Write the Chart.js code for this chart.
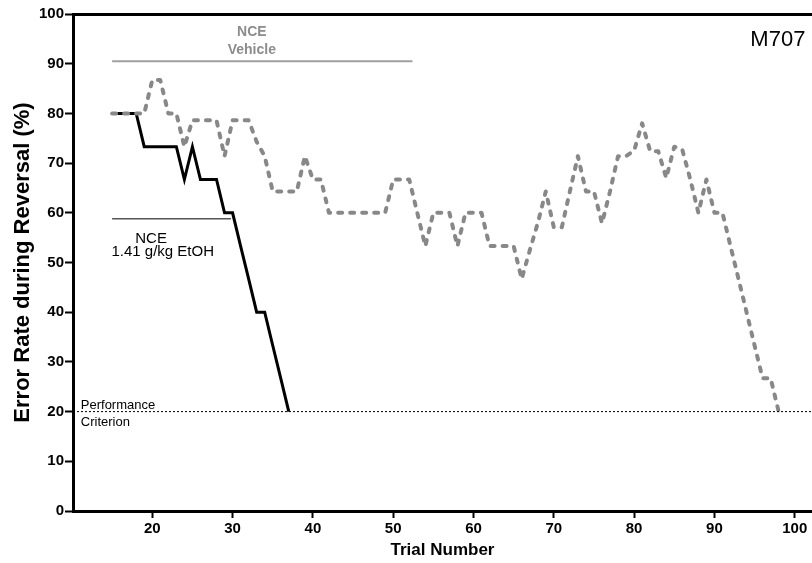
<!DOCTYPE html>
<html>
<head>
<meta charset="utf-8">
<script src="https://cdn.jsdelivr.net/npm/chart.js@4"></script>
<style>
  html, body { margin: 0; padding: 0; background: #fff; }
  canvas { display: block; }
</style>
</head>
<body>
<canvas id="myChart" width="812" height="563"></canvas>
<script>
// trial numbers and error rates (%)
const ethanolTrials = [15,16,17,18,19,20,21,22,23,24,25,26,27,28,29,30,31,32,33,34,35,36,37];
const ethanolRates  = [80,80,80,80,73.3,73.3,73.3,73.3,73.3,66.7,73.3,66.7,66.7,66.7,60,60,53.3,46.7,40,40,33.3,26.7,20];

const vehicleTrials = [];
for (let t = 15; t <= 98; t++) vehicleTrials.push(t);
const vehicleRates = [
  80,80,80,80,80,86.7,86.7,80,80,73.3,          // 15-24
  78.6,78.6,78.6,78.6,71.4,78.6,78.6,78.6,74.3,71.4, // 25-34
  64.3,64.3,64.3,64.3,71.4,66.7,66.7,60,60,60,  // 35-44
  60,60,60,60,60,66.7,66.7,66.7,60,53.3,        // 45-54
  60,60,60,53.3,60,60,60,53.3,53.3,53.3,        // 55-64
  53.3,46.7,52.4,57.9,64.3,57.1,57.1,64.3,71.4,64.3, // 65-74
  64.3,57.9,64.3,71.4,71.4,72.5,78,72.4,72.4,67,     // 75-84
  73.3,72.7,66.7,60,66.7,60,60,53.3,46.7,40,    // 85-94
  33.3,26.7,26.7,20                             // 95-98
];

const criterionLevel = 20;
const vehicleBar = [15, 52.4];   // x range of the vehicle label bar
const vehicleBarLevel = 90.5;
const ethanolBar = [15, 29.8];
const ethanolBarLevel = 58.8;

const xTickValues = [20,30,40,50,60,70,80,90,100];
const xMin = 10.13, xMax = 102.15;

// text labels placed in data coordinates
const notes = [
  { text: 'NCE', x: 32.4, y: 96.4, font: 'bold 14px "Liberation Sans", Arial', color: '#8c8c8c', align: 'center' },
  { text: 'Vehicle', x: 32.4, y: 92.8, font: 'bold 14px "Liberation Sans", Arial', color: '#8c8c8c', align: 'center' },
  { text: 'NCE', x: 19.85, y: 54.7, font: '15px "Liberation Sans", Arial', color: '#000', align: 'center' },
  { text: '1.41 g/kg EtOH', x: 21.3, y: 52.1, font: '15px "Liberation Sans", Arial', color: '#000', align: 'center' },
  { text: 'M707', x: 97.9, y: 94.8, font: '22px "Liberation Sans", Arial', color: '#000', align: 'center' },
  { text: 'Performance', x: 11.1, y: 21.3, font: '13px "Liberation Sans", Arial', color: '#000', align: 'left' },
  { text: 'Criterion', x: 11.1, y: 17.9, font: '13px "Liberation Sans", Arial', color: '#000', align: 'left' }
];

const toPoints = (xs, ys) => xs.map((x, i) => ({ x: x, y: ys[i] }));

const notesPlugin = {
  id: 'notes',
  afterDatasetsDraw(chart) {
    const ctx = chart.ctx;
    const xs = chart.scales.x, ys = chart.scales.y;
    ctx.save();
    ctx.textBaseline = 'middle';
    notes.forEach(n => {
      ctx.font = n.font;
      ctx.fillStyle = n.color;
      ctx.textAlign = n.align;
      ctx.fillText(n.text, xs.getPixelForValue(n.x), ys.getPixelForValue(n.y));
    });
    ctx.restore();
  }
};

Chart.defaults.font.family = '"Liberation Sans", Arial, sans-serif';
Chart.defaults.color = '#000';

const myChart = new Chart('myChart', {
  type: 'line',
  data: {
    datasets: [
      {
        label: 'criterion',
        data: [{ x: xMin, y: criterionLevel }, { x: xMax, y: criterionLevel }],
        borderColor: '#000', borderWidth: 1, borderDash: [2, 2], pointRadius: 0
      },
      {
        label: 'vehicle bar',
        data: [{ x: vehicleBar[0], y: vehicleBarLevel }, { x: vehicleBar[1], y: vehicleBarLevel }],
        borderColor: '#a0a0a0', borderWidth: 2, pointRadius: 0
      },
      {
        label: 'ethanol bar',
        data: [{ x: ethanolBar[0], y: ethanolBarLevel }, { x: ethanolBar[1], y: ethanolBarLevel }],
        borderColor: '#555', borderWidth: 1.5, pointRadius: 0
      },
      {
        label: 'NCE Vehicle',
        data: toPoints(vehicleTrials, vehicleRates),
        borderColor: '#888', borderWidth: 4, borderDash: [4, 8],
        borderCapStyle: 'round', borderJoinStyle: 'round', pointRadius: 0, tension: 0
      },
      {
        label: 'NCE 1.41 g/kg EtOH',
        data: toPoints(ethanolTrials, ethanolRates),
        borderColor: '#000', borderWidth: 3, borderJoinStyle: 'miter', pointRadius: 0, tension: 0
      }
    ]
  },
  options: {
    responsive: false,
    maintainAspectRatio: false,
    animation: false,
    devicePixelRatio: 1,
    layout: { padding: { top: 14, right: 0, left: 0, bottom: 0 } },
    plugins: { legend: { display: false }, tooltip: { enabled: false } },
    scales: {
      x: {
        type: 'linear', min: xMin, max: xMax,
        afterBuildTicks: s => { s.ticks = xTickValues.map(v => ({ value: v })); },
        afterFit: s => { s.height = 52; },
        grid: { drawOnChartArea: false, drawTicks: true, tickLength: 7, tickWidth: 2, tickColor: '#000' },
        border: { color: '#000', width: 3 },
        ticks: { font: { size: 15, weight: 'bold' }, padding: 2, maxRotation: 0, autoSkip: false },
        title: { display: true, text: 'Trial Number', font: { size: 17, weight: 'bold' }, padding: { top: 0, bottom: 2 } }
      },
      x2: {
        type: 'linear', position: 'top', min: xMin, max: xMax,
        afterBuildTicks: s => { s.ticks = []; },
        afterFit: s => { s.height = 0; },
        grid: { display: false, drawTicks: false },
        border: { color: '#000', width: 3 },
        ticks: { display: false }
      },
      y: {
        min: 0, max: 100,
        ticks: { stepSize: 10, font: { size: 15, weight: 'bold' }, padding: 1, autoSkip: false },
        afterFit: s => { s.width = 73; },
        grid: { drawOnChartArea: false, drawTicks: true, tickLength: 8, tickWidth: 2, tickColor: '#000' },
        border: { color: '#000', width: 3 },
        title: { display: true, text: 'Error Rate during Reversal (%)', font: { size: 22, weight: 'bold' }, padding: { top: 10, bottom: 0 } }
      }
    }
  },
  plugins: [notesPlugin]
});
</script>
</body>
</html>
